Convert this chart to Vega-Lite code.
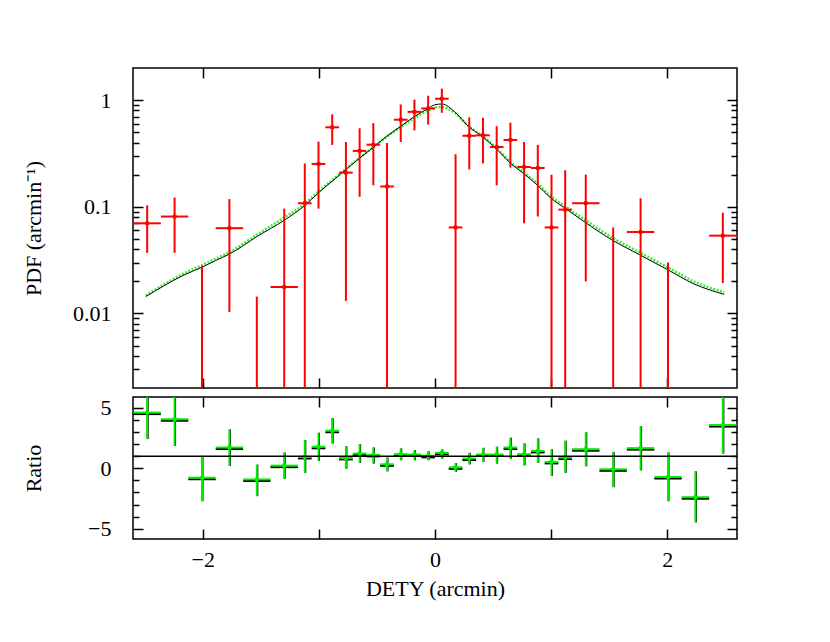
{
  "$schema": "https://vega.github.io/schema/vega-lite/v6.json",
  "padding": {"left": 21, "top": 66, "right": 10, "bottom": 10},
  "spacing": 5,
  "config": {
    "view": {"stroke": "black", "strokeWidth": 1.5},
    "font": "Liberation Serif",
    "axis": {
      "labelFont": "Liberation Serif", "titleFont": "Liberation Serif",
      "labelFontSize": 22, "titleFontSize": 22, "titleFontWeight": "normal",
      "labelColor": "black", "titleColor": "black", "tickColor": "black",
      "tickWidth": 1.5, "grid": false, "domain": false, "labelOverlap": false, "labelFlush": false
    }
  },
  "datasets": {
    "model_black": [
      {"x": -2.49, "y": 0.0144}, {"x": -2.34, "y": 0.018}, {"x": -2.17, "y": 0.0227},
      {"x": -2.0, "y": 0.0273}, {"x": -1.89, "y": 0.0313}, {"x": -1.77, "y": 0.036},
      {"x": -1.53, "y": 0.0528}, {"x": -1.3, "y": 0.0745}, {"x": -1.12, "y": 0.103},
      {"x": -1.0, "y": 0.136}, {"x": -0.89, "y": 0.172}, {"x": -0.77, "y": 0.222},
      {"x": -0.65, "y": 0.285}, {"x": -0.53, "y": 0.362}, {"x": -0.42, "y": 0.454},
      {"x": -0.3, "y": 0.563}, {"x": -0.18, "y": 0.698}, {"x": -0.06, "y": 0.835},
      {"x": 0.0, "y": 0.905}, {"x": 0.06, "y": 0.92}, {"x": 0.17, "y": 0.777},
      {"x": 0.29, "y": 0.563}, {"x": 0.41, "y": 0.454}, {"x": 0.53, "y": 0.348},
      {"x": 0.65, "y": 0.256}, {"x": 0.77, "y": 0.202}, {"x": 0.88, "y": 0.16},
      {"x": 1.0, "y": 0.12}, {"x": 1.12, "y": 0.097}, {"x": 1.29, "y": 0.0718},
      {"x": 1.53, "y": 0.0484}, {"x": 1.76, "y": 0.0356}, {"x": 2.0, "y": 0.0258},
      {"x": 2.23, "y": 0.0189}, {"x": 2.49, "y": 0.0151}
    ],
    "model_green": [
      {"x": -2.49, "y": 0.0147}, {"x": -2.34, "y": 0.0185}, {"x": -2.17, "y": 0.0235},
      {"x": -2.0, "y": 0.0285}, {"x": -1.89, "y": 0.0325}, {"x": -1.77, "y": 0.0375},
      {"x": -1.53, "y": 0.055}, {"x": -1.3, "y": 0.079}, {"x": -1.12, "y": 0.107},
      {"x": -1.0, "y": 0.14}, {"x": -0.89, "y": 0.176}, {"x": -0.77, "y": 0.226},
      {"x": -0.65, "y": 0.287}, {"x": -0.53, "y": 0.362}, {"x": -0.42, "y": 0.45},
      {"x": -0.3, "y": 0.555}, {"x": -0.18, "y": 0.675}, {"x": -0.06, "y": 0.8},
      {"x": 0.0, "y": 0.85}, {"x": 0.06, "y": 0.86}, {"x": 0.17, "y": 0.76},
      {"x": 0.29, "y": 0.57}, {"x": 0.41, "y": 0.46}, {"x": 0.53, "y": 0.355},
      {"x": 0.65, "y": 0.262}, {"x": 0.77, "y": 0.208}, {"x": 0.88, "y": 0.166},
      {"x": 1.0, "y": 0.125}, {"x": 1.12, "y": 0.101}, {"x": 1.29, "y": 0.0755},
      {"x": 1.53, "y": 0.051}, {"x": 1.76, "y": 0.0375}, {"x": 2.0, "y": 0.0272},
      {"x": 2.23, "y": 0.0199}, {"x": 2.49, "y": 0.0158}
    ],
    "pdf": [
      {"x": -2.478, "xlo": -2.596, "xhi": -2.36, "y": 0.070, "ylo": 0.037, "yhi": 0.103},
      {"x": -2.242, "xlo": -2.36, "xhi": -2.124, "y": 0.081, "ylo": 0.037, "yhi": 0.122},
      {"x": -2.006, "xlo": -2.124, "xhi": -1.888, "y": 0.0012, "ylo": 0.0005, "yhi": 0.028},
      {"x": -1.770, "xlo": -1.888, "xhi": -1.652, "y": 0.063, "ylo": 0.0103, "yhi": 0.118},
      {"x": -1.534, "xlo": -1.652, "xhi": -1.416, "y": 0.001, "ylo": 0.0005, "yhi": 0.0144},
      {"x": -1.298, "xlo": -1.416, "xhi": -1.18, "y": 0.0177, "ylo": 0.0005, "yhi": 0.096},
      {"x": -1.121, "xlo": -1.18, "xhi": -1.062, "y": 0.108, "ylo": 0.0005, "yhi": 0.254},
      {"x": -1.003, "xlo": -1.062, "xhi": -0.944, "y": 0.252, "ylo": 0.096, "yhi": 0.408},
      {"x": -0.885, "xlo": -0.944, "xhi": -0.826, "y": 0.556, "ylo": 0.38, "yhi": 0.735},
      {"x": -0.767, "xlo": -0.826, "xhi": -0.708, "y": 0.209, "ylo": 0.0131, "yhi": 0.405},
      {"x": -0.649, "xlo": -0.708, "xhi": -0.59, "y": 0.334, "ylo": 0.124, "yhi": 0.544},
      {"x": -0.531, "xlo": -0.59, "xhi": -0.472, "y": 0.382, "ylo": 0.159, "yhi": 0.609},
      {"x": -0.413, "xlo": -0.472, "xhi": -0.354, "y": 0.155, "ylo": 0.0005, "yhi": 0.397},
      {"x": -0.295, "xlo": -0.354, "xhi": -0.236, "y": 0.655, "ylo": 0.405, "yhi": 0.91},
      {"x": -0.177, "xlo": -0.236, "xhi": -0.118, "y": 0.776, "ylo": 0.52, "yhi": 1.01},
      {"x": -0.059, "xlo": -0.118, "xhi": 0.0, "y": 0.835, "ylo": 0.59, "yhi": 1.10},
      {"x": 0.059, "xlo": 0.0, "xhi": 0.118, "y": 1.03, "ylo": 0.76, "yhi": 1.28},
      {"x": 0.177, "xlo": 0.118, "xhi": 0.236, "y": 0.064, "ylo": 0.0005, "yhi": 0.31},
      {"x": 0.295, "xlo": 0.236, "xhi": 0.354, "y": 0.463, "ylo": 0.224, "yhi": 0.69},
      {"x": 0.413, "xlo": 0.354, "xhi": 0.472, "y": 0.468, "ylo": 0.255, "yhi": 0.683},
      {"x": 0.531, "xlo": 0.472, "xhi": 0.59, "y": 0.363, "ylo": 0.159, "yhi": 0.57},
      {"x": 0.649, "xlo": 0.59, "xhi": 0.708, "y": 0.423, "ylo": 0.233, "yhi": 0.614},
      {"x": 0.767, "xlo": 0.708, "xhi": 0.826, "y": 0.236, "ylo": 0.07, "yhi": 0.405},
      {"x": 0.885, "xlo": 0.826, "xhi": 0.944, "y": 0.231, "ylo": 0.081, "yhi": 0.38},
      {"x": 1.003, "xlo": 0.944, "xhi": 1.062, "y": 0.064, "ylo": 0.0005, "yhi": 0.2},
      {"x": 1.121, "xlo": 1.062, "xhi": 1.18, "y": 0.094, "ylo": 0.0005, "yhi": 0.22},
      {"x": 1.298, "xlo": 1.18, "xhi": 1.416, "y": 0.108, "ylo": 0.02, "yhi": 0.2},
      {"x": 1.534, "xlo": 1.416, "xhi": 1.652, "y": 0.001, "ylo": 0.0005, "yhi": 0.064},
      {"x": 1.770, "xlo": 1.652, "xhi": 1.888, "y": 0.058, "ylo": 0.0005, "yhi": 0.12},
      {"x": 2.006, "xlo": 1.888, "xhi": 2.124, "y": 0.0015, "ylo": 0.0005, "yhi": 0.030},
      {"x": 2.242, "xlo": 2.124, "xhi": 2.36, "y": 0.0008, "ylo": 0.0004, "yhi": 0.0019},
      {"x": 2.478, "xlo": 2.36, "xhi": 2.596, "y": 0.0536, "ylo": 0.0193, "yhi": 0.088}
    ],
    "ratio": [
      {"x": -2.478, "xlo": -2.596, "xhi": -2.36, "r": 4.61, "rlo": 2.42, "rhi": 6.8},
      {"x": -2.242, "xlo": -2.36, "xhi": -2.124, "r": 4.06, "rlo": 1.86, "rhi": 6.3},
      {"x": -2.006, "xlo": -2.124, "xhi": -1.888, "r": -0.78, "rlo": -2.72, "rhi": 1.03},
      {"x": -1.770, "xlo": -1.888, "xhi": -1.652, "r": 1.72, "rlo": 0.19, "rhi": 3.22},
      {"x": -1.534, "xlo": -1.652, "xhi": -1.416, "r": -0.92, "rlo": -2.3, "rhi": 0.3},
      {"x": -1.298, "xlo": -1.416, "xhi": -1.18, "r": 0.22, "rlo": -0.86, "rhi": 1.3},
      {"x": -1.121, "xlo": -1.18, "xhi": -1.062, "r": 0.94, "rlo": -0.39, "rhi": 2.33},
      {"x": -1.003, "xlo": -1.062, "xhi": -0.944, "r": 1.78, "rlo": 0.61, "rhi": 2.94},
      {"x": -0.885, "xlo": -0.944, "xhi": -0.826, "r": 3.11, "rlo": 2.06, "rhi": 4.14},
      {"x": -0.767, "xlo": -0.826, "xhi": -0.708, "r": 0.86, "rlo": -0.03, "rhi": 1.83},
      {"x": -0.649, "xlo": -0.708, "xhi": -0.59, "r": 1.22, "rlo": 0.44, "rhi": 2.0},
      {"x": -0.531, "xlo": -0.59, "xhi": -0.472, "r": 1.11, "rlo": 0.39, "rhi": 1.72},
      {"x": -0.413, "xlo": -0.472, "xhi": -0.354, "r": 0.33, "rlo": -0.25, "rhi": 0.89},
      {"x": -0.295, "xlo": -0.354, "xhi": -0.236, "r": 1.17, "rlo": 0.67, "rhi": 1.64},
      {"x": -0.177, "xlo": -0.236, "xhi": -0.118, "r": 1.14, "rlo": 0.67, "rhi": 1.5},
      {"x": -0.059, "xlo": -0.118, "xhi": 0.0, "r": 1.03, "rlo": 0.67, "rhi": 1.4},
      {"x": 0.059, "xlo": 0.0, "xhi": 0.118, "r": 1.28, "rlo": 0.81, "rhi": 1.56},
      {"x": 0.177, "xlo": 0.118, "xhi": 0.236, "r": 0.08, "rlo": -0.31, "rhi": 0.44},
      {"x": 0.295, "xlo": 0.236, "xhi": 0.354, "r": 0.81, "rlo": 0.33, "rhi": 1.28},
      {"x": 0.413, "xlo": 0.354, "xhi": 0.472, "r": 1.14, "rlo": 0.53, "rhi": 1.69},
      {"x": 0.531, "xlo": 0.472, "xhi": 0.59, "r": 1.14, "rlo": 0.39, "rhi": 1.78},
      {"x": 0.649, "xlo": 0.59, "xhi": 0.708, "r": 1.72, "rlo": 0.81, "rhi": 2.53},
      {"x": 0.767, "xlo": 0.708, "xhi": 0.826, "r": 1.17, "rlo": 0.25, "rhi": 2.06},
      {"x": 0.885, "xlo": 0.826, "xhi": 0.944, "r": 1.44, "rlo": 0.44, "rhi": 2.47},
      {"x": 1.003, "xlo": 0.944, "xhi": 1.062, "r": 0.53, "rlo": -0.64, "rhi": 1.58},
      {"x": 1.121, "xlo": 1.062, "xhi": 1.18, "r": 0.89, "rlo": -0.39, "rhi": 2.28},
      {"x": 1.298, "xlo": 1.18, "xhi": 1.416, "r": 1.58, "rlo": 0.17, "rhi": 2.97},
      {"x": 1.534, "xlo": 1.416, "xhi": 1.652, "r": -0.08, "rlo": -1.56, "rhi": 1.36},
      {"x": 1.770, "xlo": 1.652, "xhi": 1.888, "r": 1.67, "rlo": -0.17, "rhi": 3.5},
      {"x": 2.006, "xlo": 1.888, "xhi": 2.124, "r": -0.72, "rlo": -2.72, "rhi": 1.31},
      {"x": 2.242, "xlo": 2.124, "xhi": 2.36, "r": -2.39, "rlo": -4.47, "rhi": -0.25},
      {"x": 2.478, "xlo": 2.36, "xhi": 2.596, "r": 3.58, "rlo": 1.22, "rhi": 6.2}
    ],
    "unity": [{"r": 1}]
  },
  "vconcat": [
    {
      "width": 604,
      "height": 320,
      "resolve": {"axis": {"x": "independent", "y": "independent"}},
      "layer": [
        {
          "data": {"name": "model_green"},
          "mark": {"type": "line", "color": "#33ee33", "strokeWidth": 2.5, "strokeDash": [2, 1.5], "clip": true, "interpolate": "monotone"},
          "encoding": {
            "x": {"field": "x", "type": "quantitative", "scale": {"domain": [-2.6, 2.6], "nice": false, "zero": false},
                  "axis": {"orient": "bottom", "values": [-2, -1, 0, 1, 2], "labels": false, "tickSize": -10, "title": null}},
            "y": {"field": "y", "type": "quantitative", "scale": {"type": "log", "domain": [0.002, 2], "nice": false},
                  "axis": {"orient": "left", "values": [0.01, 0.1, 1], "ticks": false, "format": "~g", "labelPadding": 22,
                           "title": "PDF (arcmin⁻¹)", "titleX": -93, "titleBaseline": "alphabetic"}}
          }
        },
        {
          "data": {"name": "model_black"},
          "mark": {"type": "line", "color": "black", "strokeWidth": 1, "clip": true, "interpolate": "monotone"},
          "encoding": {
            "x": {"field": "x", "type": "quantitative",
                  "axis": {"orient": "top", "values": [-2, -1, 0, 1, 2], "labels": false, "tickSize": -10, "title": null}},
            "y": {"field": "y", "type": "quantitative",
                  "axis": {"orient": "left", "values": [0.01, 0.1, 1], "labels": false, "tickSize": -10, "title": null}}
          }
        },
        {
          "data": {"name": "pdf"},
          "mark": {"type": "rule", "color": "#ff0000", "strokeWidth": 2, "clip": true},
          "encoding": {
            "x": {"field": "xlo", "type": "quantitative", "axis": null},
            "x2": {"field": "xhi"},
            "y": {"field": "y", "type": "quantitative",
                  "axis": {"orient": "left", "values": [0.003, 0.004, 0.005, 0.006, 0.007, 0.008, 0.009, 0.02, 0.03, 0.04, 0.05, 0.06, 0.07, 0.08, 0.09, 0.2, 0.3, 0.4, 0.5, 0.6, 0.7, 0.8, 0.9], "labels": false, "tickSize": -6, "title": null}}
          }
        },
        {
          "data": {"name": "pdf"},
          "mark": {"type": "rule", "color": "#ff0000", "strokeWidth": 2, "clip": true},
          "encoding": {
            "x": {"field": "x", "type": "quantitative", "axis": null},
            "y": {"field": "ylo", "type": "quantitative",
                  "axis": {"orient": "right", "values": [0.01, 0.1, 1], "labels": false, "tickSize": -10, "title": null}},
            "y2": {"field": "yhi"}
          }
        },
        {
          "data": {"name": "pdf"},
          "mark": {"type": "square", "color": "#ff0000", "size": 14, "opacity": 1, "clip": true},
          "encoding": {
            "x": {"field": "x", "type": "quantitative", "axis": null},
            "y": {"field": "y", "type": "quantitative",
                  "axis": {"orient": "right", "values": [0.003, 0.004, 0.005, 0.006, 0.007, 0.008, 0.009, 0.02, 0.03, 0.04, 0.05, 0.06, 0.07, 0.08, 0.09, 0.2, 0.3, 0.4, 0.5, 0.6, 0.7, 0.8, 0.9], "labels": false, "tickSize": -6, "title": null}}
          }
        }
      ]
    },
    {
      "width": 604,
      "height": 142,
      "resolve": {"axis": {"x": "independent", "y": "independent"}},
      "layer": [
        {
          "data": {"name": "ratio"},
          "mark": {"type": "rule", "color": "black", "strokeWidth": 2, "clip": true, "yOffset": 1.5},
          "encoding": {
            "x": {"field": "xlo", "type": "quantitative", "scale": {"domain": [-2.6, 2.6], "nice": false, "zero": false},
                  "axis": {"orient": "bottom", "values": [-2, 0, 2], "ticks": false, "format": "d", "labelPadding": 10, "title": "DETY (arcmin)", "titlePadding": 8}},
            "x2": {"field": "xhi"},
            "y": {"field": "r", "type": "quantitative", "scale": {"domain": [-5.85, 5.9], "nice": false, "zero": false},
                  "axis": {"orient": "left", "values": [-5, 0, 5], "ticks": false, "format": "d", "labelPadding": 22,
                           "title": "Ratio", "titleX": -93, "titleBaseline": "alphabetic"}}
          }
        },
        {
          "data": {"name": "ratio"},
          "mark": {"type": "rule", "color": "black", "strokeWidth": 2, "clip": true, "xOffset": 0.5},
          "encoding": {
            "x": {"field": "x", "type": "quantitative",
                  "axis": {"orient": "bottom", "values": [-2, -1, 0, 1, 2], "labels": false, "tickSize": -10, "title": null}},
            "y": {"field": "rlo", "type": "quantitative",
                  "axis": {"orient": "left", "values": [-5, 0, 5], "labels": false, "tickSize": -10, "title": null}},
            "y2": {"field": "rhi"}
          }
        },
        {
          "data": {"name": "ratio"},
          "mark": {"type": "rule", "color": "#00ee00", "strokeWidth": 2, "clip": true},
          "encoding": {
            "x": {"field": "xlo", "type": "quantitative",
                  "axis": {"orient": "top", "values": [-2, -1, 0, 1, 2], "labels": false, "tickSize": -10, "title": null}},
            "x2": {"field": "xhi"},
            "y": {"field": "r", "type": "quantitative",
                  "axis": {"orient": "left", "values": [-4, -3, -2, -1, 1, 2, 3, 4], "labels": false, "tickSize": -6, "title": null}}
          }
        },
        {
          "data": {"name": "ratio"},
          "mark": {"type": "rule", "color": "#00ee00", "strokeWidth": 2, "clip": true},
          "encoding": {
            "x": {"field": "x", "type": "quantitative", "axis": null},
            "y": {"field": "rlo", "type": "quantitative",
                  "axis": {"orient": "right", "values": [-5, 0, 5], "labels": false, "tickSize": -10, "title": null}},
            "y2": {"field": "rhi"}
          }
        },
        {
          "data": {"name": "ratio"},
          "mark": {"type": "square", "color": "#00ee00", "size": 14, "opacity": 1, "clip": true},
          "encoding": {
            "x": {"field": "x", "type": "quantitative", "axis": null},
            "y": {"field": "r", "type": "quantitative",
                  "axis": {"orient": "right", "values": [-4, -3, -2, -1, 1, 2, 3, 4], "labels": false, "tickSize": -6, "title": null}}
          }
        },
        {
          "data": {"name": "unity"},
          "mark": {"type": "rule", "color": "black", "strokeWidth": 1.5},
          "encoding": {
            "y": {"field": "r", "type": "quantitative", "axis": null}
          }
        }
      ]
    }
  ]
}
